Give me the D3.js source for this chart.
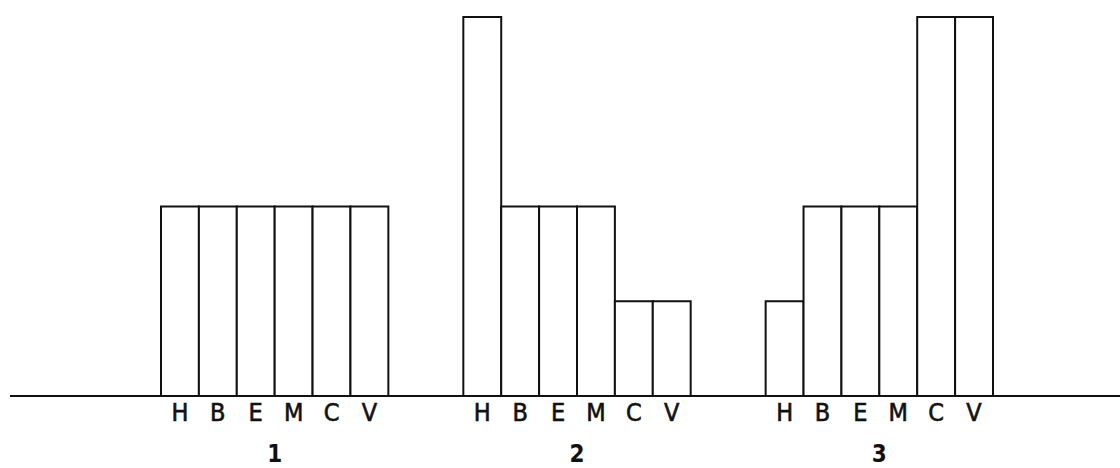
<!DOCTYPE html>
<html>
<head>
<meta charset="utf-8">
<script src="https://cdn.jsdelivr.net/npm/d3@7"></script>
<style>
  body { margin: 0; background: #fff; }
  svg { display: block; }
  .letter { font-family: "DejaVu Sans Condensed", "Liberation Sans Narrow", sans-serif; font-size: 25px; fill: #111; stroke: #111; stroke-width: 0.6px; }
  .group-label { font-family: "DejaVu Sans Condensed", "Liberation Sans Narrow", sans-serif; font-size: 24px; font-weight: bold; fill: #111; }
</style>
</head>
<body>
<svg width="1120" height="468"></svg>
<script>
  // groups and categories
  const groups = ['1', '2', '3'];
  const letters = ['H', 'B', 'E', 'M', 'C', 'V'];

  // bar heights per group, in the order of letters
  const group1 = [2, 2, 2, 2, 2, 2];
  const group2 = [4, 2, 2, 2, 1, 1];
  const group3 = [1, 2, 2, 2, 4, 4];
  const seriesValues = [group1, group2, group3];

  const svg = d3.select('svg');

  const baseY = 396;

  const xGroup = d3.scaleBand()
    .domain(groups)
    .range([161, 993])
    .paddingInner(0.248)
    .paddingOuter(0);

  const xBar = d3.scaleBand()
    .domain(letters)
    .range([0, xGroup.bandwidth()])
    .padding(0);

  const yScale = d3.scaleLinear()
    .domain([0, 4])
    .range([baseY, 17]);

  const data = [];
  groups.forEach((g, gi) => {
    letters.forEach((l, li) => {
      data.push({ group: g, letter: l, value: seriesValues[gi][li] });
    });
  });

  const groupSel = svg.selectAll('g.group')
    .data(groups)
    .enter()
    .append('g')
    .attr('class', 'group')
    .attr('transform', (g) => `translate(${xGroup(g)}, 0)`);

  groupSel.selectAll('rect')
    .data((g) => data.filter((d) => d.group === g))
    .enter()
    .append('rect')
    .attr('x', (d) => xBar(d.letter))
    .attr('y', (d) => yScale(d.value))
    .attr('width', xBar.bandwidth())
    .attr('height', (d) => baseY - yScale(d.value))
    .attr('fill', '#fff')
    .attr('stroke', '#111')
    .attr('stroke-width', 2);

  // letter labels under each bar
  groupSel.selectAll('text.letter')
    .data(letters)
    .enter()
    .append('text')
    .attr('class', 'letter')
    .attr('x', (l) => xBar(l) + xBar.bandwidth() / 2)
    .attr('y', 421)
    .attr('text-anchor', 'middle')
    .text((l) => l);

  // group numbers
  groupSel.append('text')
    .attr('class', 'group-label')
    .attr('x', xGroup.bandwidth() / 2)
    .attr('y', 462)
    .attr('text-anchor', 'middle')
    .text((g) => g);

  // baseline
  svg.append('line')
    .attr('x1', 10)
    .attr('x2', 1120)
    .attr('y1', baseY)
    .attr('y2', baseY)
    .attr('stroke', '#111')
    .attr('stroke-width', 2);
</script>
</body>
</html>
